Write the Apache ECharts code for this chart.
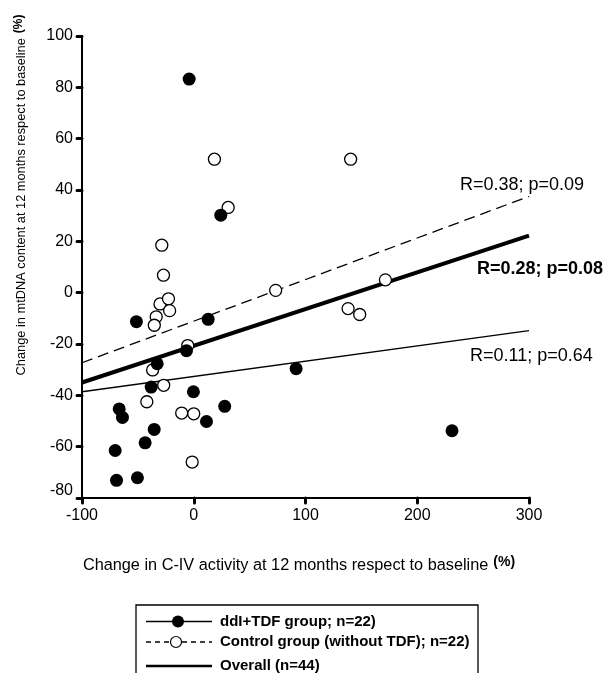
<!DOCTYPE html>
<html>
<head>
<meta charset="utf-8">
<script src="https://cdn.jsdelivr.net/npm/echarts@6/dist/echarts.min.js"></script>
<style>
html,body{margin:0;padding:0;background:#fff;}
#chart{width:605px;height:673px;}
</style>
</head>
<body>
<div id="chart"></div>
<script>
// ---- data ----
const ddiTdfX = [-4.1, 24.2, -51.3, 12.9, -6.5, -32.7, -38.1, -0.3, -66.7, -63.8, -35.4, -43.5, -70.3, -69.1, -50.4, 11.4, 27.7, 91.6, 231.1];
const ddiTdfY = [83.2, 30.2, -11.3, -10.4, -22.6, -27.7, -36.8, -38.6, -45.3, -48.6, -53.3, -58.5, -61.5, -73.1, -72.1, -50.2, -44.3, -29.6, -53.8];
const controlX = [18.5, 30.8, -28.6, -27.1, 140.4, 171.5, 138.1, 148.5, 73.3, -30.2, -22.6, -21.6, -33.6, -35.3, -5.4, -36.8, -26.9, -42.0, -10.8, 0.0, -1.4];
const controlY = [52.0, 33.2, 18.5, 6.8, 52.0, 5.0, -6.2, -8.5, 0.9, -4.4, -2.4, -7.0, -9.4, -12.7, -20.6, -30.1, -36.1, -42.5, -46.9, -47.2, -66.0];
const fitX = [-100, 300];
const ddiFitY = [-38.6, -14.8];
const controlFitY = [-27.3, 37.5];
const overallFitY = [-35, 22.2];
const xTicks = {min: -100, max: 300, interval: 100};
const yTicks = {min: -80, max: 100, interval: 20};
const legendLabels = ['ddI+TDF group; n=22)', 'Control group (without TDF); n=22)', 'Overall (n=44)'];
const fitLabels = ['R=0.38; p=0.09', 'R=0.28; p=0.08', 'R=0.11; p=0.64'];
const xTitle = 'Change in C-IV activity at 12 months respect to baseline';
const yTitle = 'Change in mtDNA content at 12 months respect to baseline';

const FONT = '"Liberation Sans", Arial, sans-serif';
const pair = (xs, ys) => xs.map((x, i) => [x, ys[i]]);

const chart = echarts.init(document.getElementById('chart'), null, {renderer: 'canvas'});

const axisCommon = {
  axisLine: {show: true, onZero: false, lineStyle: {color: '#000', width: 2}},
  axisTick: {show: true, inside: false, length: 5, lineStyle: {color: '#000', width: 3, cap: 'round'}},
  splitLine: {show: false},
  axisLabel: {color: '#000', fontSize: 16, fontFamily: FONT, margin: 10}
};

const legendY = [621.5, 642, 666];
const legendBox = {x: 136, y: 605, w: 342, h: 120};
const sampleX0 = 146, sampleX1 = 212, textX = 220;

chart.setOption({
  animation: false,
  backgroundColor: '#fff',
  grid: {left: 82, right: 76, top: 36, bottom: 175, containLabel: false, outerBoundsMode: 'none'},
  xAxis: Object.assign({}, axisCommon, {
    type: 'value', min: xTicks.min, max: xTicks.max, interval: xTicks.interval,
    name: '{t|' + xTitle + '}{s|(%)}',
    nameLocation: 'middle', nameGap: 57,
    nameTextStyle: {
      padding: [0, 13, 0, 0],
      rich: {
        t: {fontSize: 16.3, fontFamily: FONT, color: '#000', lineHeight: 20},
        s: {fontSize: 14, fontFamily: FONT, fontWeight: 'bold', color: '#000', padding: [0, 0, 7, 5]}
      }
    }
  }),
  yAxis: Object.assign({}, axisCommon, {
    type: 'value', min: yTicks.min, max: yTicks.max, interval: yTicks.interval,
    axisLabel: Object.assign({}, axisCommon.axisLabel, {
      margin: 9,
      formatter: v => v === yTicks.min ? '{lo|' + v + '}' : String(v),
      rich: {lo: {fontSize: 16, fontFamily: FONT, color: '#000', padding: [0, 0, 14, 0]}}
    }),
    name: '{t|' + yTitle + '}{s|(%)}',
    nameLocation: 'middle', nameGap: 52, nameRotate: 90,
    nameTextStyle: {
      padding: [0, 0, 0, 144],
      rich: {
        t: {fontSize: 12.8, fontFamily: FONT, color: '#000', lineHeight: 16},
        s: {fontSize: 12, fontFamily: FONT, fontWeight: 'bold', color: '#000', padding: [0, 0, 5, 5]}
      }
    }
  }),
  series: [
    {type: 'line', name: 'ddI fit', data: pair(fitX, ddiFitY), showSymbol: false, z: 2,
     lineStyle: {color: '#000', width: 1.3}},
    {type: 'line', name: 'Control fit', data: pair(fitX, controlFitY), showSymbol: false, z: 2,
     lineStyle: {color: '#000', width: 1.3, type: [11, 6]}},
    {type: 'line', name: 'Overall fit', data: pair(fitX, overallFitY), showSymbol: false, z: 2,
     lineStyle: {color: '#000', width: 4}},
    {type: 'scatter', name: 'Control', data: pair(controlX, controlY), symbol: 'circle', symbolSize: 12, z: 3,
     itemStyle: {color: '#fff', borderColor: '#000', borderWidth: 1.3, opacity: 1}},
    {type: 'scatter', name: 'ddI+TDF', data: pair(ddiTdfX, ddiTdfY), symbol: 'circle', symbolSize: 13, z: 4,
     itemStyle: {color: '#000', opacity: 1}}
  ],
  graphic: [
    {type: 'text', left: 460, top: 176, style: {text: fitLabels[0], fontSize: 18, fontFamily: FONT, fill: '#000'}},
    {type: 'text', left: 477, top: 260, style: {text: fitLabels[1], fontSize: 18, fontWeight: 'bold', fontFamily: FONT, fill: '#000'}},
    {type: 'text', left: 470, top: 347, style: {text: fitLabels[2], fontSize: 18, fontFamily: FONT, fill: '#000'}},
    // legend box
    {type: 'rect', shape: {x: legendBox.x, y: legendBox.y, width: legendBox.w, height: legendBox.h},
     style: {fill: 'none', stroke: '#000', lineWidth: 1.3}},
    {type: 'line', shape: {x1: sampleX0, y1: legendY[0], x2: sampleX1, y2: legendY[0]}, style: {stroke: '#000', lineWidth: 1.3}},
    {type: 'circle', shape: {cx: 178, cy: legendY[0], r: 6}, style: {fill: '#000'}},
    {type: 'text', x: textX, y: legendY[0], style: {text: legendLabels[0], fontSize: 15, fontWeight: 'bold', fontFamily: FONT, fill: '#000', verticalAlign: 'middle'}},
    {type: 'line', shape: {x1: sampleX0, y1: legendY[1], x2: sampleX1, y2: legendY[1]}, style: {stroke: '#000', lineWidth: 1.3, lineDash: [5, 4]}},
    {type: 'circle', shape: {cx: 176, cy: legendY[1], r: 5.5}, style: {fill: '#fff', stroke: '#000', lineWidth: 1.2}},
    {type: 'text', x: textX, y: legendY[1], style: {text: legendLabels[1], fontSize: 15, fontWeight: 'bold', fontFamily: FONT, fill: '#000', verticalAlign: 'middle'}},
    {type: 'line', shape: {x1: sampleX0, y1: legendY[2], x2: sampleX1, y2: legendY[2]}, style: {stroke: '#000', lineWidth: 2.3}},
    {type: 'text', x: textX, y: legendY[2], style: {text: legendLabels[2], fontSize: 15, fontWeight: 'bold', fontFamily: FONT, fill: '#000', verticalAlign: 'middle'}}
  ]
});
</script>
</body>
</html>
